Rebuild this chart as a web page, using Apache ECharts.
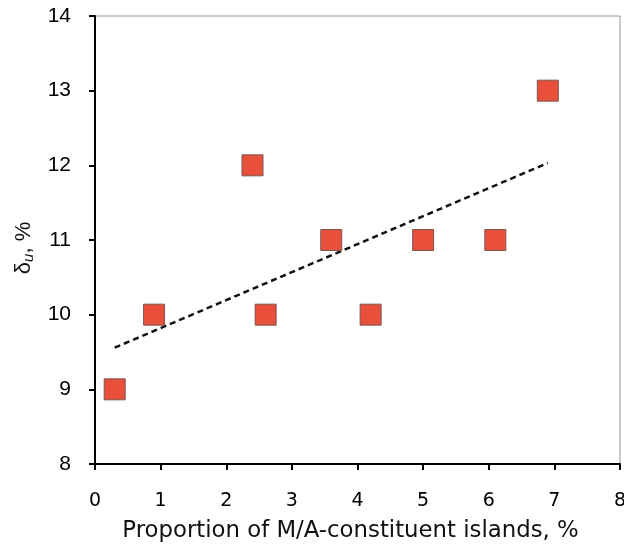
<!DOCTYPE html>
<html>
<head>
<meta charset="utf-8">
<script src="https://cdn.jsdelivr.net/npm/echarts@6/dist/echarts.min.js"></script>
<style>
  html, body { margin: 0; padding: 0; background: #fff; }
  #chart { width: 624px; height: 550px; }
</style>
</head>
<body>
<div id="chart"></div>
<script>
// Proportion of M/A-constituent islands (%) vs. uniform elongation δu (%)
const islandShare = [0.3, 0.9, 2.4, 2.6, 3.6, 4.2, 5.0, 6.1, 6.9];
const elongation  = [9, 10, 12, 10, 11, 10, 11, 11, 13];
const xTicks = [0, 1, 2, 3, 4, 5, 6, 7, 8];
const yTicks = [8, 9, 10, 11, 12, 13, 14];

// least-squares trend line over the measured points
function linearFit(xs, ys) {
  const n = xs.length;
  const mx = xs.reduce((a, b) => a + b, 0) / n;
  const my = ys.reduce((a, b) => a + b, 0) / n;
  let sxy = 0, sxx = 0;
  for (let i = 0; i < n; i++) {
    sxy += (xs[i] - mx) * (ys[i] - my);
    sxx += (xs[i] - mx) * (xs[i] - mx);
  }
  const k = sxy / sxx;
  return { k, b: my - k * mx };
}
const fit = linearFit(islandShare, elongation);
const xFirst = Math.min(...islandShare), xLast = Math.max(...islandShare);
const trend = [[xFirst, fit.k * xFirst + fit.b], [xLast, fit.k * xLast + fit.b]];

const chart = echarts.init(document.getElementById('chart'), null, { renderer: 'canvas' });
chart.setOption({
  animation: false,
  grid: {
    left: 95, right: 4, top: 16, bottom: 86,
    outerBoundsMode: 'none',
    containLabel: false,
    show: true, borderColor: '#8a9a9a', borderWidth: 1
  },
  xAxis: {
    type: 'value',
    min: xTicks[0], max: xTicks[xTicks.length - 1], interval: 1,
    name: 'Proportion of M/A-constituent islands, %',
    nameLocation: 'middle', nameGap: 56,
    nameTextStyle: { fontFamily: 'DejaVu Sans', fontSize: 22.8, color: '#111', padding: [0, 14, 0, 0] },
    axisLine: { show: true, onZero: false, lineStyle: { color: '#000', width: 2 } },
    axisTick: { show: true, inside: false, length: 6, lineStyle: { color: '#000', width: 2 } },
    axisLabel: { margin: 28, fontFamily: 'DejaVu Sans', fontSize: 19, color: '#000' },
    splitLine: { show: false }
  },
  yAxis: {
    type: 'value',
    min: yTicks[0], max: yTicks[yTicks.length - 1], interval: 1,
    name: '{d|δ}{s|u}{d|, %}',
    nameLocation: 'middle', nameGap: 55, nameRotate: 90,
    nameTextStyle: {
      padding: [0, 16, 0, 0],
      rich: {
        d: { fontFamily: 'Liberation Sans', fontSize: 22, color: '#111' },
        s: { fontFamily: 'Liberation Sans', fontSize: 15, color: '#111', fontStyle: 'italic', verticalAlign: 'bottom', padding: [10, 0, 0, 0] }
      }
    },
    axisLine: { show: true, onZero: false, lineStyle: { color: '#000', width: 2 } },
    axisTick: { show: true, inside: false, length: 6, lineStyle: { color: '#000', width: 2 } },
    axisLabel: { margin: 24, fontFamily: 'Liberation Sans', fontSize: 21, color: '#000' },
    splitLine: { show: false }
  },
  series: [
    {
      type: 'line',
      data: trend,
      symbol: 'none',
      lineStyle: { color: '#111', width: 2.5, type: [6, 4] },
      z: 1
    },
    {
      type: 'scatter',
      data: islandShare.map((x, i) => [x, elongation[i]]),
      symbol: 'rect',
      symbolSize: 21,
      itemStyle: { color: '#e8503c', opacity: 1, borderColor: '#7d5550', borderWidth: 1 },
      z: 2
    }
  ]
});
</script>
</body>
</html>
